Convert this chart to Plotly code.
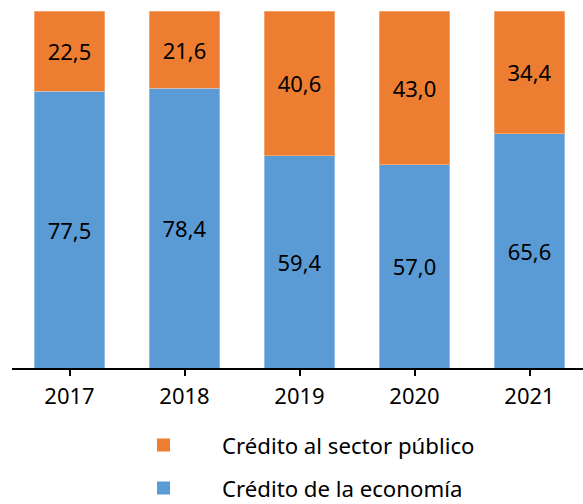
import plotly.graph_objects as go

years = ["2017", "2018", "2019", "2020", "2021"]
credito_economia = [77.5, 78.4, 59.4, 57.0, 65.6]
credito_publico = [22.5, 21.6, 40.6, 43.0, 34.4]

BLUE = "#5B9BD5"
ORANGE = "#ED7D31"
FONT = "Noto Sans"

fig = go.Figure()
fig.add_trace(go.Bar(
    x=years, y=credito_economia, name="Crédito de la economía",
    marker=dict(color=BLUE, line=dict(color="#B9D3EE", width=0.6)),
    texttemplate="%{y:.1f}", textposition="inside", insidetextanchor="middle",
    textfont=dict(color="black", size=22, family=FONT), showlegend=False,
))
fig.add_trace(go.Bar(
    x=years, y=credito_publico, name="Crédito al sector público",
    marker=dict(color=ORANGE, line=dict(color="#F6BE98", width=0.6)),
    texttemplate="%{y:.1f}", textposition="inside", insidetextanchor="middle",
    textfont=dict(color="black", size=22, family=FONT), showlegend=False,
))

# Legend drawn as colour swatches plus labels below the axis
legend_items = [("Crédito al sector público", ORANGE, 445), ("Crédito de la economía", BLUE, 488)]
H = 504
for label, color, yc in legend_items:
    fig.add_shape(type="rect", xref="paper", yref="paper",
                  x0=(157 - 12) / 571, x1=(170 - 12) / 571,
                  y0=(368 - (yc + 6.5)) / 357, y1=(368 - (yc - 6.5)) / 357,
                  fillcolor=color, line=dict(width=0))
    fig.add_annotation(text=label, xref="paper", yref="paper",
                       x=(220 - 12) / 571, y=(368 - yc) / 357,
                       xanchor="left", yanchor="middle", showarrow=False,
                       font=dict(size=22.2, color="black", family=FONT))

fig.update_layout(
    barmode="stack", bargap=0.39,
    width=583, height=H,
    margin=dict(l=12, r=0, t=11, b=136),
    plot_bgcolor="white", paper_bgcolor="white",
    separators=",.",
    uniformtext=dict(minsize=8, mode="show"),
    xaxis=dict(range=[-0.5, 4.465], showline=True, linecolor="black", linewidth=1.5,
               ticks="outside", ticklen=6, tickcolor="black", tickwidth=1.5,
               ticklabelstandoff=2,
               tickfont=dict(size=22, color="black", family=FONT), fixedrange=True),
    yaxis=dict(range=[0, 100], visible=False, fixedrange=True),
)

fig.write_html("out.html")
